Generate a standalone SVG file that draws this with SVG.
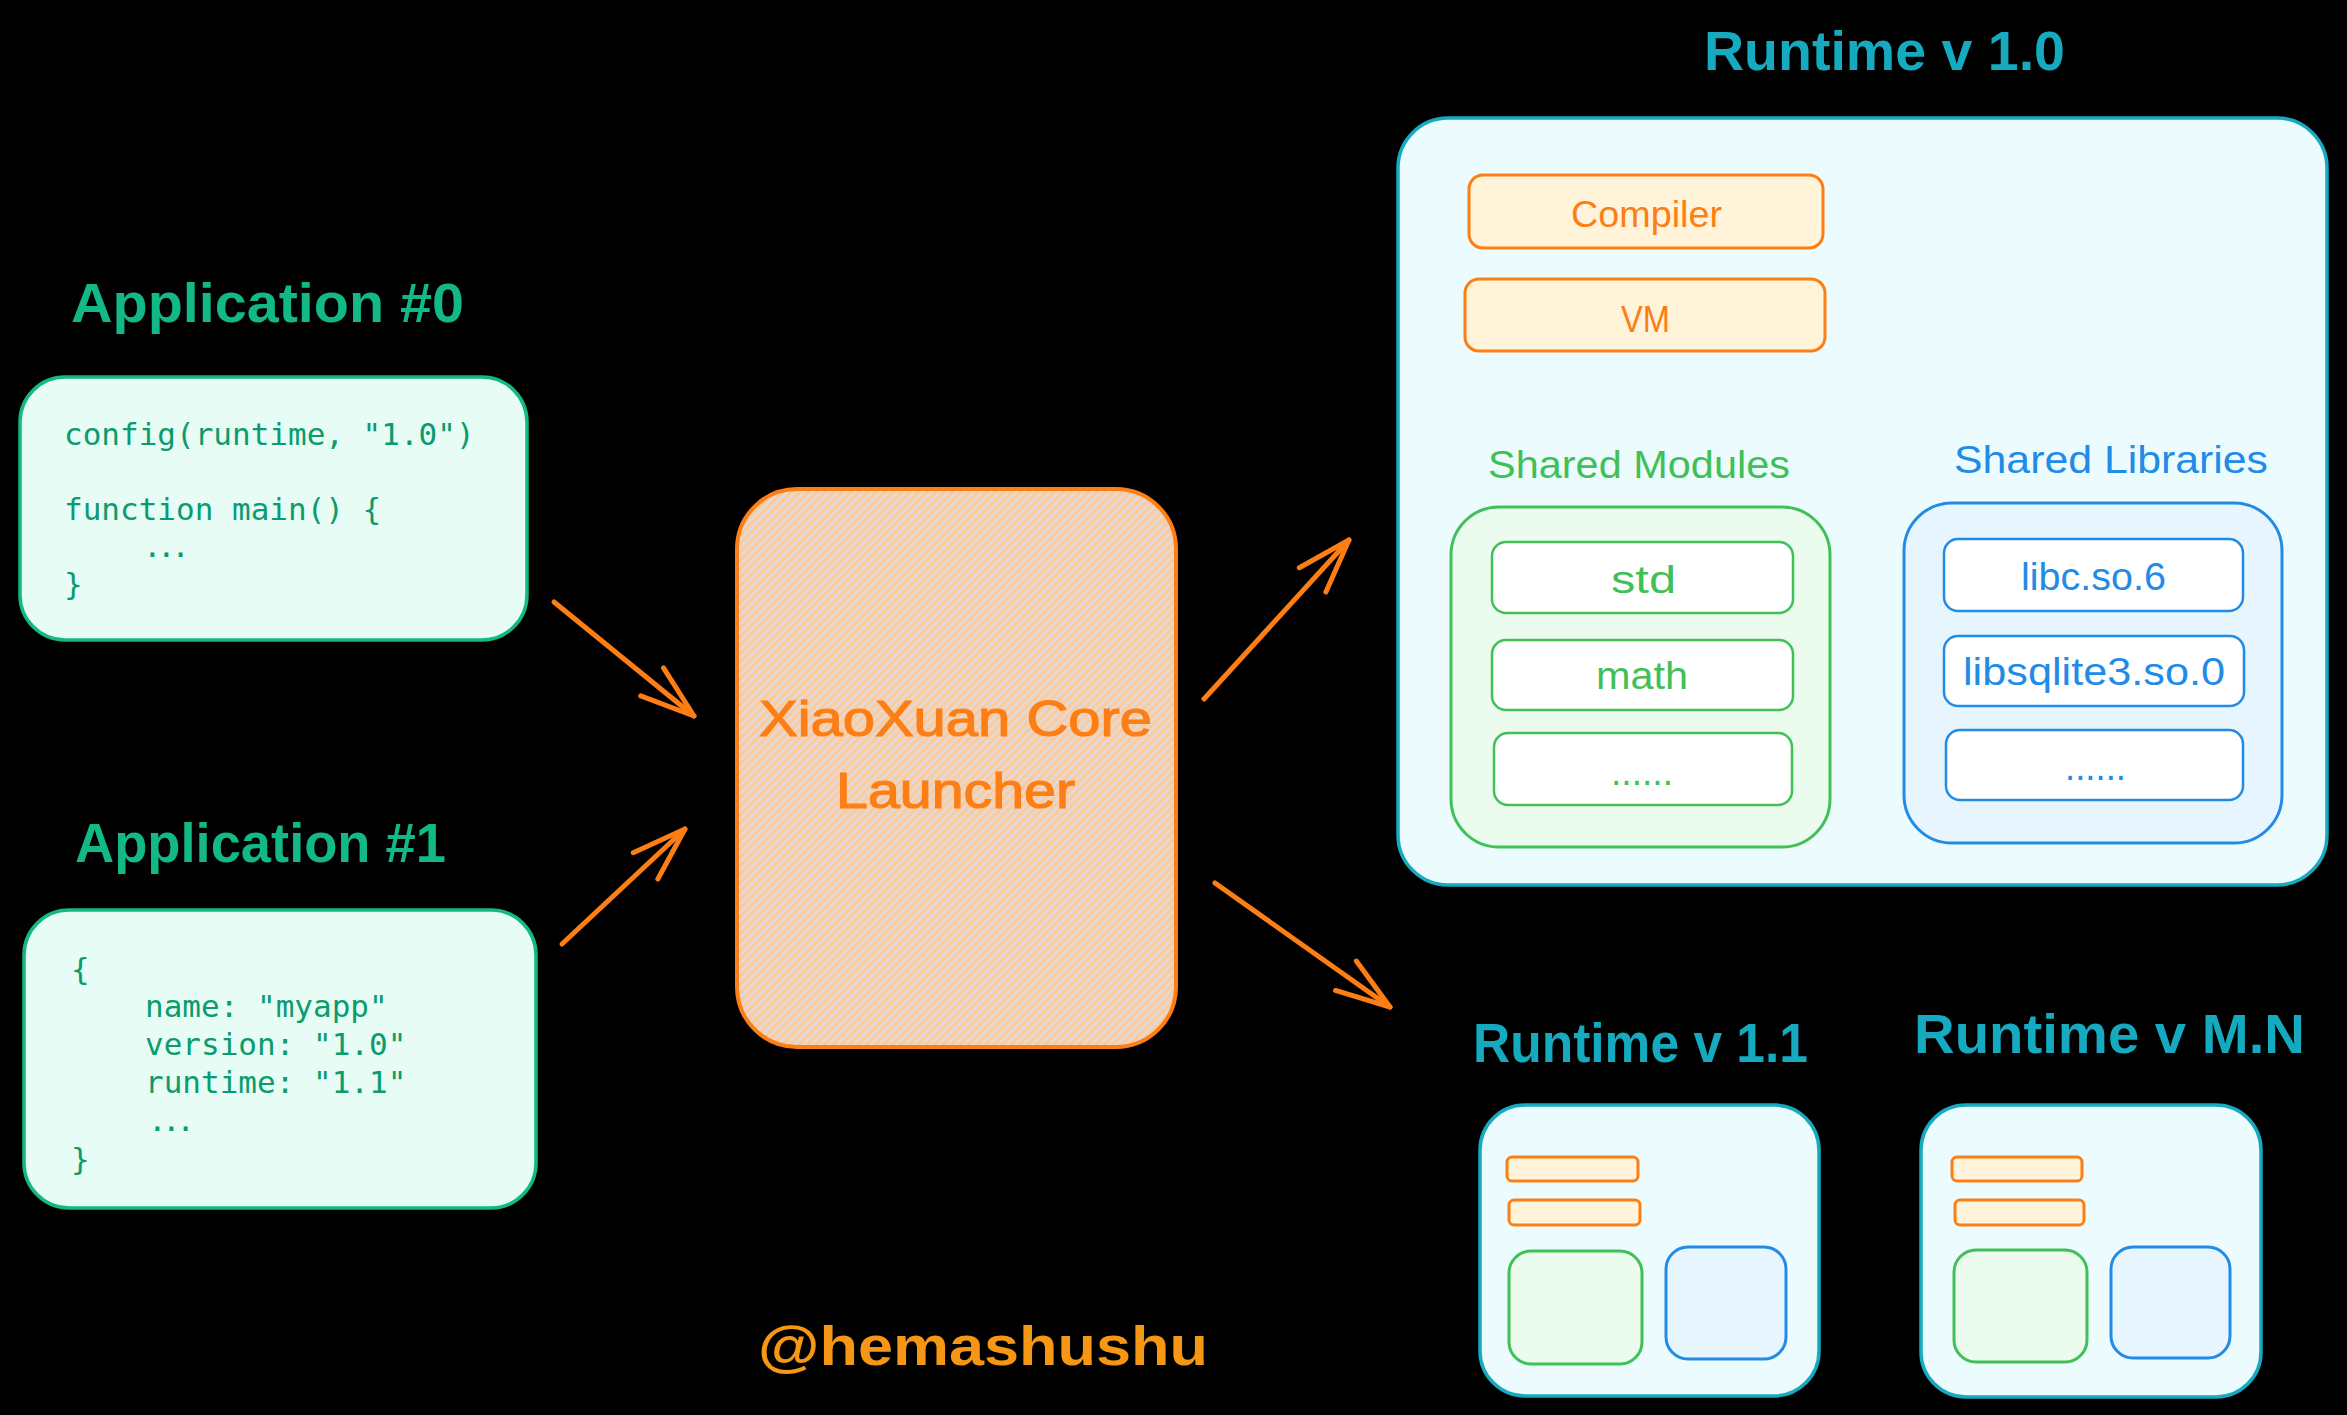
<svg xmlns="http://www.w3.org/2000/svg" width="2347" height="1415" viewBox="0 0 2347 1415">
<defs>
<style>
.hand{font-family:"Liberation Sans","Open Sans",sans-serif;}
.title{font-family:"Liberation Sans","Open Sans",sans-serif;font-weight:bold;font-size:55px;}
.code{font-family:"DejaVu Sans Mono","Liberation Mono",monospace;font-size:31px;fill:#0b9b6c;white-space:pre;}
.app{fill:#e6fcf5;stroke:#12b886;stroke-width:3.5;}
.rt{fill:#ecfcfe;stroke:#15aabf;stroke-width:3.5;}
.core{fill:#fff4da;stroke:#fd7e14;stroke-width:3;}
.mod{fill:#ebfbee;stroke:#40c057;stroke-width:3;}
.lib{fill:#e7f5ff;stroke:#228be6;stroke-width:3;}
.modi{fill:#ffffff;stroke:#40c057;stroke-width:2.5;}
.libi{fill:#ffffff;stroke:#228be6;stroke-width:2.5;}
.arrow{fill:none;stroke:#fd7e14;stroke-width:5;stroke-linecap:round;stroke-linejoin:round;}
</style>
<pattern id="hatch" patternUnits="userSpaceOnUse" width="6" height="6" patternTransform="rotate(45)">
<rect width="6" height="6" fill="#e2d8d8"/>
<rect width="3" height="6" fill="#ffca94"/>
</pattern>
<marker id="head" markerUnits="userSpaceOnUse" markerWidth="90" markerHeight="90" viewBox="-75 -45 90 90" refX="0" refY="0" orient="auto" overflow="visible">
<path d="M -54 -18 L 0 0 L -54 18" fill="none" stroke="#fd7e14" stroke-width="5" stroke-linecap="round" stroke-linejoin="round"/>
</marker>
</defs>
<rect x="0" y="0" width="2347" height="1415" fill="#000000"/>

<g id="app0">
<text class="title" x="71" y="322" fill="#12b886" textLength="393" lengthAdjust="spacingAndGlyphs">Application #0</text>
<rect class="app" x="20" y="377" width="507" height="263" rx="45"/>
<text class="code" x="64" y="445">config(runtime, "1.0")</text>
<text class="code" x="64" y="520">function main() {</text>
<text class="code" x="143" y="557" letter-spacing="-4.6">...</text>
<text class="code" x="64" y="595">}</text>
</g>

<g id="app1">
<text class="title" x="75" y="862" fill="#12b886" textLength="371" lengthAdjust="spacingAndGlyphs">Application #1</text>
<rect class="app" x="24" y="910" width="512" height="298" rx="45"/>
<text class="code" x="71" y="980">{</text>
<text class="code" x="145" y="1017">name: "myapp"</text>
<text class="code" x="145" y="1055">version: "1.0"</text>
<text class="code" x="145" y="1093">runtime: "1.1"</text>
<text class="code" x="148" y="1131" letter-spacing="-4.6">...</text>
<text class="code" x="71" y="1170">}</text>
</g>

<g id="launcher">
<rect x="737" y="489" width="439" height="558" rx="60" fill="url(#hatch)" stroke="#fd7e14" stroke-width="4"/>
<text class="hand" x="759" y="736" font-size="50" fill="#fd7e14" stroke="#fd7e14" stroke-width="1.2" textLength="393" lengthAdjust="spacingAndGlyphs">XiaoXuan Core</text>
<text class="hand" x="836" y="808" font-size="50" fill="#fd7e14" stroke="#fd7e14" stroke-width="1.2" textLength="239" lengthAdjust="spacingAndGlyphs">Launcher</text>
</g>

<g id="runtime10">
<text class="title" x="1704" y="70" fill="#15aabf" textLength="361" lengthAdjust="spacingAndGlyphs">Runtime v 1.0</text>
<rect class="rt" x="1398" y="118" width="929" height="767" rx="50"/>
</g>
<g id="compiler">
<rect class="core" x="1469" y="175" width="354" height="73" rx="14"/>
<text class="hand" x="1571" y="227" font-size="37" fill="#fd7e14" textLength="151" lengthAdjust="spacingAndGlyphs">Compiler</text>
</g>
<g id="vm">
<rect class="core" x="1465" y="279" width="360" height="72" rx="14"/>
<text class="hand" x="1621" y="332" font-size="37" fill="#fd7e14" textLength="49" lengthAdjust="spacingAndGlyphs">VM</text>
</g>
<g id="shared-modules">
<text class="hand" x="1488" y="478" font-size="38" fill="#40c057" textLength="302" lengthAdjust="spacingAndGlyphs">Shared Modules</text>
<rect class="mod" x="1451" y="507" width="379" height="340" rx="48"/>
</g>
<g id="mod-std">
<rect class="modi" x="1492" y="542" width="301" height="71" rx="14"/>
<text class="hand" x="1611" y="593" font-size="38" fill="#40c057" textLength="65" lengthAdjust="spacingAndGlyphs">std</text>
</g>
<g id="mod-math">
<rect class="modi" x="1492" y="640" width="301" height="70" rx="14"/>
<text class="hand" x="1596" y="689" font-size="38" fill="#40c057" textLength="92" lengthAdjust="spacingAndGlyphs">math</text>
</g>
<g id="mod-more">
<rect class="modi" x="1494" y="733" width="298" height="72" rx="14"/>
<text class="hand" x="1611" y="785" font-size="38" fill="#40c057" textLength="62" lengthAdjust="spacingAndGlyphs">......</text>
</g>
<g id="shared-libraries">
<text class="hand" x="1954" y="473" font-size="38" fill="#228be6" textLength="314" lengthAdjust="spacingAndGlyphs">Shared Libraries</text>
<rect class="lib" x="1904" y="503" width="378" height="340" rx="48"/>
</g>
<g id="lib-libc">
<rect class="libi" x="1944" y="539" width="299" height="72" rx="14"/>
<text class="hand" x="2021" y="590" font-size="38" fill="#228be6" textLength="145" lengthAdjust="spacingAndGlyphs">libc.so.6</text>
</g>
<g id="lib-sqlite">
<rect class="libi" x="1944" y="636" width="300" height="70" rx="14"/>
<text class="hand" x="1963" y="685" font-size="38" fill="#228be6" textLength="262" lengthAdjust="spacingAndGlyphs">libsqlite3.so.0</text>
</g>
<g id="lib-more">
<rect class="libi" x="1946" y="730" width="297" height="70" rx="14"/>
<text class="hand" x="2065" y="780" font-size="38" fill="#228be6" textLength="61" lengthAdjust="spacingAndGlyphs">......</text>
</g>

<g id="runtime11">
<text class="title" x="1473" y="1062" fill="#15aabf" textLength="335" lengthAdjust="spacingAndGlyphs">Runtime v 1.1</text>
<rect class="rt" x="1480" y="1105" width="339" height="291" rx="45"/>
<rect class="core" x="1507" y="1157" width="131" height="24" rx="5"/>
<rect class="core" x="1509" y="1200" width="131" height="25" rx="5"/>
<rect class="mod" x="1509" y="1251" width="133" height="113" rx="22"/>
<rect class="lib" x="1666" y="1247" width="120" height="112" rx="22"/>
</g>

<g id="runtimeMN">
<text class="title" x="1914" y="1053" fill="#15aabf" textLength="391" lengthAdjust="spacingAndGlyphs">Runtime v M.N</text>
<rect class="rt" x="1921" y="1105" width="340" height="292" rx="45"/>
<rect class="core" x="1952" y="1157" width="130" height="24" rx="5"/>
<rect class="core" x="1955" y="1200" width="129" height="25" rx="5"/>
<rect class="mod" x="1954" y="1250" width="133" height="112" rx="22"/>
<rect class="lib" x="2111" y="1247" width="119" height="111" rx="22"/>
</g>

<g id="signature">
<text class="title" x="758" y="1365" font-size="58" fill="#f59614" textLength="450" lengthAdjust="spacingAndGlyphs">@hemashushu</text>
</g>

<g id="connectors">
<path class="arrow" d="M 554 602 L 694 716" marker-end="url(#head)"/>
<path class="arrow" d="M 562 944 L 685 829" marker-end="url(#head)"/>
<path class="arrow" d="M 1204 699 L 1349 540" marker-end="url(#head)"/>
<path class="arrow" d="M 1215 883 L 1390 1007" marker-end="url(#head)"/>
</g>
</svg>
